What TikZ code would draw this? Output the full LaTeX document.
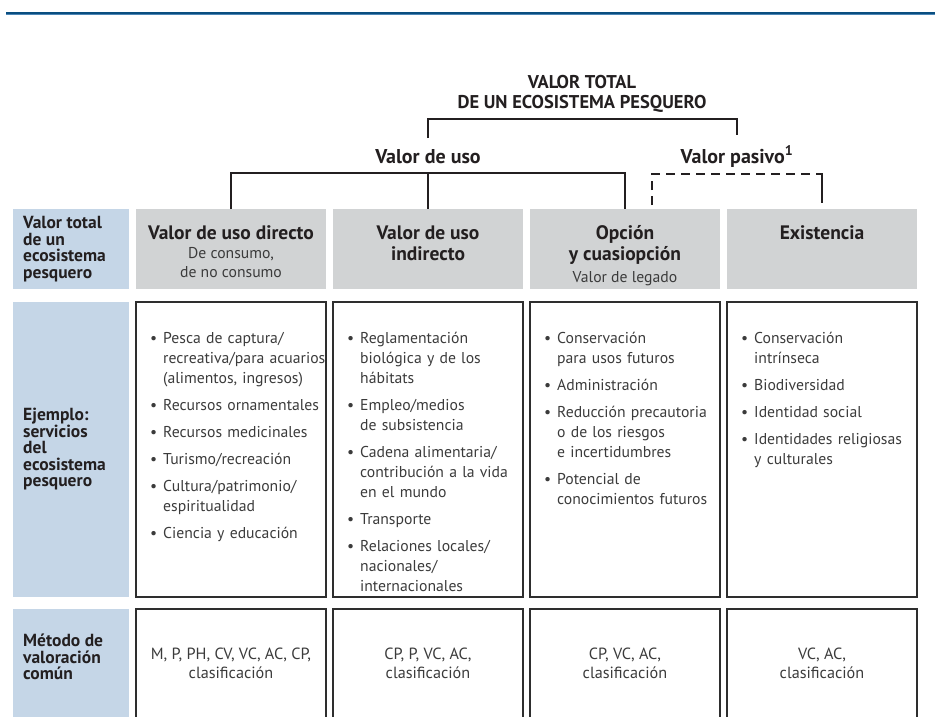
\documentclass[tikz,border=0pt]{standalone}
\usepackage{fontspec}
\setmainfont{PT Sans}
\usetikzlibrary{positioning}
\definecolor{ink}{HTML}{231F20}
\definecolor{bodyink}{HTML}{3B3B3B}
\definecolor{headgray}{HTML}{D1D3D4}
\definecolor{labelblue}{HTML}{C5D6E7}
\definecolor{boxline}{HTML}{2E2E2E}
\definecolor{rulenavy}{HTML}{0A4E80}
\definecolor{ruleblue}{HTML}{4D86B6}
\newcommand{\labelfont}{\bfseries\fontsize{17.5}{16.5}\selectfont\lineskiplimit=-10pt\relax}
\newenvironment{servlist}{\begin{list}{\textbullet\hfill}{\setlength{\leftmargin}{13pt}\setlength{\labelwidth}{13pt}\setlength{\labelsep}{0pt}\setlength{\itemsep}{7pt}\setlength{\parsep}{0pt}\setlength{\topsep}{0pt}\setlength{\partopsep}{0pt}}}{\end{list}}
\tikzset{
  headbox/.style = {rectangle, fill=headgray, minimum width=190pt, minimum height=80pt, inner sep=0pt, outer sep=0pt, anchor=north west},
  labelbox/.style = {rectangle, fill=labelblue, minimum width=116pt, inner sep=0pt, outer sep=0pt},
  listbox/.style = {rectangle, draw=boxline, line width=1.1pt, minimum width=190pt, inner sep=0pt, outer sep=0pt},
  titletext/.style = {font=\bfseries\fontsize{18.5}{20}\selectfont, align=center, text=ink, inner sep=0pt},
  tier/.style = {font=\bfseries\fontsize{20}{22}\selectfont, text=ink, inner sep=0pt, outer sep=11pt, anchor=base},
  headtext/.style = {font=\bfseries\fontsize{19.5}{21}\selectfont, align=center, text=ink, inner sep=0pt},
  subtext/.style = {font=\fontsize{15.7}{19}\selectfont, align=center, text=bodyink, inner sep=0pt},
  labeltext/.style = {font=\labelfont, align=left, text=ink, inner sep=0pt},
  listtext/.style = {font=\fontsize{15.7}{20}\selectfont, text width=178pt, align=left, text=bodyink, inner sep=0pt},
  methodtext/.style = {font=\fontsize{16.2}{19}\selectfont, align=center, text=bodyink, inner sep=0pt},
  bracket/.style = {draw=ink, line width=2.2pt},
  dashbracket/.style = {bracket, dash pattern=on 9pt off 6pt}
}
\begin{document}
\begin{tikzpicture}[x=1pt, y=-1pt, node distance=7pt]
\clip (0,0) rectangle (935,716);

\draw[rulenavy, line width=2.6pt] (6,13) -- (935,13);
\draw[ruleblue, line width=1pt] (6,14.9) -- (935,14.9);

\node[titletext] (tot) at (582,93.5) {VALOR TOTAL\\DE UN ECOSISTEMA PESQUERO};
\node[tier] (uso) at (428,163) {Valor de uso};
\node[tier] (pas) at (737,163) {Valor pasivo\textsuperscript{1}};

\node[headbox] (h1) at (136,209) {};
\node[headbox, right=of h1] (h2) {};
\node[headbox, right=of h2] (h3) {};
\node[headbox, right=of h3] (h4) {};
\node[labelbox, minimum height=80pt, left=of h1] (l1) {};

\node[listbox, minimum height=295pt, below=13pt of h1] (m1) {};
\node[listbox, minimum height=295pt, right=of m1] (m2) {};
\node[listbox, minimum height=295pt, right=of m2] (m3) {};
\node[listbox, minimum height=295pt, right=of m3] (m4) {};
\node[labelbox, minimum height=295pt, left=of m1] (l2) {};

\node[listbox, minimum height=130pt, below=12pt of m1] (b1) {};
\node[listbox, minimum height=130pt, right=of b1] (b2) {};
\node[listbox, minimum height=130pt, right=of b2] (b3) {};
\node[listbox, minimum height=130pt, right=of b3] (b4) {};
\node[labelbox, minimum height=130pt, left=of b1] (l3) {};

\node[labeltext, right=10pt of l1.west] {Valor total\\de un\\ecosistema\\pesquero};
\node[labeltext, right=10pt of l2.west] {Ejemplo:\\servicios\\del\\ecosistema\\pesquero};
\node[labeltext, yshift=17pt, right=10pt of l3.west] {Método de\\valoración\\común};

\node[headtext, below=16.5pt of h1.north] {Valor de uso directo};
\node[subtext, below=37.7pt of h1.north] {De consumo,\\de no consumo};
\node[headtext, below=16.5pt of h2.north] {Valor de uso\\indirecto};
\node[headtext, below=16.5pt of h3.north] {Opción\\y cuasiopción};
\node[subtext, below=62.4pt of h3.north] {Valor de legado};
\node[headtext, below=16.5pt of h4.north] {Existencia};

\node[listtext, below right=21.5pt and 14pt of m1.north west] {\begin{servlist}
\item Pesca de captura/\newline recreativa/para acuarios\newline (alimentos, ingresos)
\item Recursos ornamentales
\item Recursos medicinales
\item Turismo/recreación
\item Cultura/patrimonio/\newline espiritualidad
\item Ciencia y educación
\end{servlist}};
\node[listtext, below right=21.5pt and 14pt of m2.north west] {\begin{servlist}
\item Reglamentación\newline biológica y de los\newline hábitats
\item Empleo/medios\newline de subsistencia
\item Cadena alimentaria/\newline contribución a la vida\newline en el mundo
\item Transporte
\item Relaciones locales/\newline nacionales/\newline internacionales
\end{servlist}};
\node[listtext, below right=21.5pt and 14pt of m3.north west] {\begin{servlist}
\item Conservación\newline para usos futuros
\item Administración
\item Reducción precautoria\newline o de los riesgos\newline e incertidumbres
\item Potencial de\newline conocimientos futuros
\end{servlist}};
\node[listtext, below right=21.5pt and 14pt of m4.north west] {\begin{servlist}
\item Conservación\newline intrínseca
\item Biodiversidad
\item Identidad social
\item Identidades religiosas\newline y culturales
\end{servlist}};

\node[methodtext, yshift=11pt] at (b1) {M, P, PH, CV, VC, AC, CP,\\clasificación};
\node[methodtext, yshift=11pt] at (b2) {CP, P, VC, AC,\\clasificación};
\node[methodtext, yshift=11pt] at (b3) {CP, VC, AC,\\clasificación};
\node[methodtext, yshift=11pt] at (b4) {VC, AC,\\clasificación};

\coordinate (topbar) at (582,119);
\coordinate (usebar) at (428,173);
\coordinate (pasbar) at (737,174);
\draw[bracket] (uso.north) |- (topbar) -| (pas.north);
\draw[bracket] (h1.north) |- (usebar) -| (h3.north);
\draw[bracket] (usebar) -- (h2.north);
\draw[dashbracket] ([xshift=27pt, yshift=4pt]h3.north) |- (pasbar -| h4.north);
\draw[bracket] ([xshift=-6pt]pasbar -| h4.north) -| ([yshift=6pt]h4.north);
\end{tikzpicture}
\end{document}
